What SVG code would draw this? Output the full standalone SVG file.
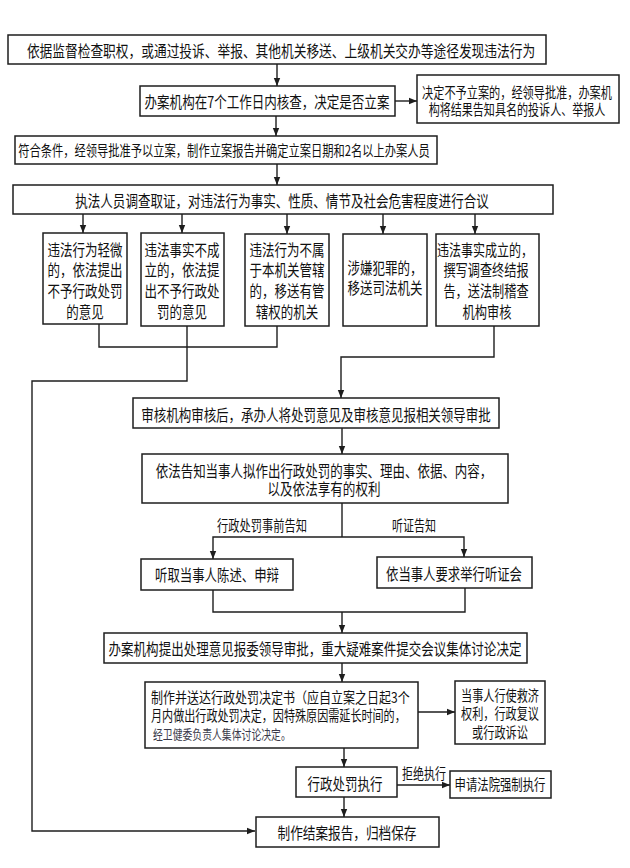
<svg xmlns="http://www.w3.org/2000/svg" width="630" height="868" viewBox="0 0 630 868">
<style>
.box{fill:#fff;stroke:#1e1e1e;stroke-width:1.5}
.ln{fill:none;stroke:#1e1e1e;stroke-width:1.4}
text{font-family:"Noto Sans CJK SC","Noto Sans",sans-serif;fill:#111;font-size:16px;dominant-baseline:central}
.m{text-anchor:middle}
.s{font-size:14.5px}
.g{fill:#3a3a4a;font-size:13px}
</style>
<defs>
<marker id="ah" markerUnits="userSpaceOnUse" markerWidth="8" markerHeight="8" viewBox="0 0 8 8" refX="8" refY="4" orient="auto">
<path d="M0,0.8 L8,4 L0,7.2 Z" fill="#1e1e1e"/>
</marker>
</defs>
<rect width="630" height="868" fill="#fff"/>
<g id="connectors">
<line class="ln" x1="277" y1="64" x2="277" y2="86" marker-end="url(#ah)"/>
<line class="ln" x1="395" y1="101" x2="417" y2="101" marker-end="url(#ah)"/>
<line class="ln" x1="276" y1="116" x2="276" y2="136" marker-end="url(#ah)"/>
<line class="ln" x1="277" y1="164" x2="277" y2="185" marker-end="url(#ah)"/>
<line class="ln" x1="83" y1="214" x2="83" y2="233" marker-end="url(#ah)"/>
<line class="ln" x1="182" y1="214" x2="182" y2="233" marker-end="url(#ah)"/>
<line class="ln" x1="287" y1="214" x2="287" y2="234" marker-end="url(#ah)"/>
<line class="ln" x1="383" y1="214" x2="383" y2="234" marker-end="url(#ah)"/>
<line class="ln" x1="475" y1="214" x2="475" y2="234" marker-end="url(#ah)"/>
<polyline class="ln" points="99,324 99,347 277,347 277,326"/>
<polyline class="ln" points="187,326 187,381 32,381 32,831 255,831" marker-end="url(#ah)"/>
<polyline class="ln" points="494,326 494,357 341,357 341,398" marker-end="url(#ah)"/>
<line class="ln" x1="342" y1="428" x2="342" y2="454" marker-end="url(#ah)"/>
<line class="ln" x1="342" y1="503" x2="342" y2="537"/>
<polyline class="ln" points="342,537 213,537 213,559" marker-end="url(#ah)"/>
<polyline class="ln" points="342,537 464,537 464,557" marker-end="url(#ah)"/>
<polyline class="ln" points="213,590 213,612 465,612 465,588"/>
<line class="ln" x1="342" y1="612" x2="342" y2="633" marker-end="url(#ah)"/>
<line class="ln" x1="342" y1="663" x2="342" y2="682" marker-end="url(#ah)"/>
<line class="ln" x1="418" y1="712" x2="455" y2="712" marker-end="url(#ah)"/>
<line class="ln" x1="344" y1="748" x2="344" y2="767" marker-end="url(#ah)"/>
<line class="ln" x1="397" y1="785" x2="450" y2="785" marker-end="url(#ah)"/>
<line class="ln" x1="344" y1="797" x2="344" y2="817" marker-end="url(#ah)"/>
<text class="m s" transform="translate(262,525) scale(0.776,1)">行政处罚事前告知</text>
<text class="m s" transform="translate(414,525) scale(0.76,1)">听证告知</text>
<text class="m s" transform="translate(424,773) scale(0.76,1)">拒绝执行</text>
</g>
<g id="n1">
<rect class="box" x="8" y="35" width="538" height="29"/>
<text class="m" transform="translate(281,50) scale(0.795,1)">依据监督检查职权，或通过投诉、举报、其他机关移送、上级机关交办等途径发现违法行为</text>
</g>
<g id="n2">
<rect class="box" x="140" y="86" width="255" height="30"/>
<text class="m" transform="translate(267,101) scale(0.783,1)">办案机构在7个工作日内核查，决定是否立案</text>
</g>
<g id="n3">
<rect class="box" x="417" y="75" width="202" height="48"/>
<text class="m s" transform="translate(517,92) scale(0.771,1)">决定不予立案的，经领导批准，办案机</text>
<text class="m s" transform="translate(517,109) scale(0.763,1)">构将结果告知具名的投诉人、举报人</text>
</g>
<g id="n4">
<rect class="box" x="15" y="136" width="422" height="28"/>
<text class="m s" transform="translate(224,150) scale(0.777,1)">符合条件，经领导批准予以立案，制作立案报告并确定立案日期和2名以上办案人员</text>
</g>
<g id="n5">
<rect class="box" x="13" y="185" width="540" height="29"/>
<text class="m" transform="translate(282,200) scale(0.784,1)">执法人员调查取证，对违法行为事实、性质、情节及社会危害程度进行合议</text>
</g>
<g id="b1">
<rect class="box" x="43" y="233" width="84" height="91"/>
<text class="m" transform="translate(85,249) scale(0.781,1)">违法行为轻微</text>
<text class="m" transform="translate(85,269) scale(0.781,1)">的，依法提出</text>
<text class="m" transform="translate(85,290) scale(0.781,1)">不予行政处罚</text>
<text class="m" transform="translate(85,311) scale(0.781,1)">的意见</text>
</g>
<g id="b2">
<rect class="box" x="141" y="233" width="83" height="93"/>
<text class="m" transform="translate(182,249) scale(0.781,1)">违法事实不成</text>
<text class="m" transform="translate(182,269) scale(0.781,1)">立的，依法提</text>
<text class="m" transform="translate(182,290) scale(0.781,1)">出不予行政处</text>
<text class="m" transform="translate(182,311) scale(0.781,1)">罚的意见</text>
</g>
<g id="b3">
<rect class="box" x="245" y="234" width="84" height="92"/>
<text class="m" transform="translate(287,249) scale(0.781,1)">违法行为不属</text>
<text class="m" transform="translate(287,269) scale(0.781,1)">于本机关管辖</text>
<text class="m" transform="translate(287,290) scale(0.781,1)">的，移送有管</text>
<text class="m" transform="translate(287,311) scale(0.781,1)">辖权的机关</text>
</g>
<g id="b4">
<rect class="box" x="343" y="234" width="84" height="92"/>
<text class="m" transform="translate(385,267) scale(0.781,1)">涉嫌犯罪的，</text>
<text class="m" transform="translate(385,287) scale(0.781,1)">移送司法机关</text>
</g>
<g id="b5">
<rect class="box" x="436" y="234" width="103" height="92"/>
<text class="m" transform="translate(485,249) scale(0.75,1)">违法事实成立的，</text>
<text class="m" transform="translate(486,269) scale(0.76,1)">撰写调查终结报</text>
<text class="m" transform="translate(486,290) scale(0.76,1)">告，送法制稽查</text>
<text class="m" transform="translate(487,311) scale(0.766,1)">机构审核</text>
</g>
<g id="n6">
<rect class="box" x="133" y="398" width="366" height="30"/>
<text class="m" transform="translate(316,414) scale(0.781,1)">审核机构审核后，承办人将处罚意见及审核意见报相关领导审批</text>
</g>
<g id="n7">
<rect class="box" x="142" y="454" width="366" height="49"/>
<text class="m" transform="translate(324,470) scale(0.78,1)">依法告知当事人拟作出行政处罚的事实、理由、依据、内容，</text>
<text class="m" transform="translate(324,488) scale(0.785,1)">以及依法享有的权利</text>
</g>
<g id="n8">
<rect class="box" x="141" y="559" width="152" height="31"/>
<text class="m" transform="translate(217,574) scale(0.775,1)">听取当事人陈述、申辩</text>
</g>
<g id="n9">
<rect class="box" x="377" y="557" width="155" height="31"/>
<text class="m" transform="translate(454,573) scale(0.773,1)">依当事人要求举行听证会</text>
</g>
<g id="n10">
<rect class="box" x="104" y="633" width="423" height="30"/>
<text class="m" transform="translate(315,648) scale(0.782,1)">办案机构提出处理意见报委领导审批，重大疑难案件提交会议集体讨论决定</text>
</g>
<g id="n11">
<rect class="box" x="145" y="682" width="273" height="66"/>
<text class="s" transform="translate(151,697) scale(0.829,1)">制作并送达行政处罚决定书（应自立案之日起3个</text>
<text class="s" transform="translate(151,715) scale(0.765,1)">月内做出行政处罚决定，因特殊原因需延长时间的，</text>
<text class="g" transform="translate(153,733) scale(0.758,1)">经卫健委负责人集体讨论决定。</text>
</g>
<g id="n12">
<rect class="box" x="455" y="681" width="90" height="63"/>
<text class="m s" transform="translate(500,695) scale(0.768,1)">当事人行使救济</text>
<text class="m s" transform="translate(500,713) scale(0.768,1)">权利，行政复议</text>
<text class="m s" transform="translate(500,732) scale(0.772,1)">或行政诉讼</text>
</g>
<g id="n13">
<rect class="box" x="296" y="767" width="101" height="30"/>
<text class="m" transform="translate(345,783) scale(0.78,1)">行政处罚执行</text>
</g>
<g id="n14">
<rect class="box" x="450" y="771" width="101" height="27"/>
<text class="m s" transform="translate(500,784) scale(0.784,1)">申请法院强制执行</text>
</g>
<g id="n15">
<rect class="box" x="256" y="817" width="183" height="30"/>
<text class="m" transform="translate(347,832) scale(0.79,1)">制作结案报告，归档保存</text>
</g>
</svg>
